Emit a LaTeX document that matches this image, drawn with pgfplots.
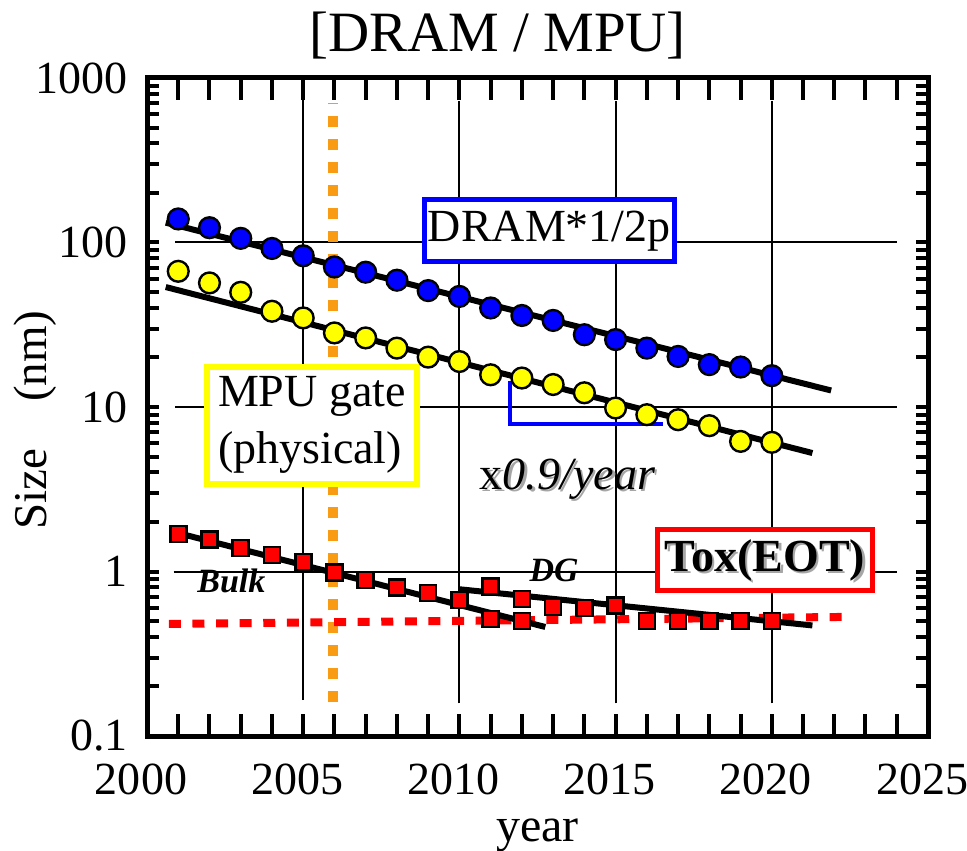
\documentclass[border=0pt]{standalone}
\usepackage{pgfplots}
\pgfplotsset{compat=1.18}
\usepackage{fontspec}
\setmainfont{Liberation Serif}
\definecolor{dblue}{RGB}{0,0,255}
\definecolor{dred}{RGB}{255,0,0}
\definecolor{dyellow}{RGB}{255,255,0}
\definecolor{dorange}{RGB}{250,155,20}
\begin{document}
\begin{tikzpicture}
\path[use as bounding box] (-73.5pt,-57pt) rectangle (410pt,368pt);
\begin{axis}[
  at={(0,0)}, anchor=south west,
  scale only axis, width=390.5pt, height=329pt,
  xmin=2000, xmax=2025, ymode=log, ymin=0.1, ymax=1000,
  axis line style={line width=2.5pt},
  tick align=inside,
  xtick={2000,2005,...,2025}, minor xtick={2001,...,2024},
  xticklabels={2000,2005,2010,2015,2020,2025},
  ytick={0.1,1,10,100,1000}, yticklabels={0.1,1,10,100,1000},
  major tick length=11pt, minor tick length=11pt,
  y tick style={/pgfplots/major tick length=6pt,/pgfplots/minor tick length=6pt},
  tick style={line width=2pt, black},
  /pgf/number format/assume math mode=true,
  xticklabel style={font=\fontsize{23}{26}\selectfont, yshift=-10.5pt, xshift=-3pt},
  yticklabel style={font=\fontsize{23}{26}\selectfont, xshift=-6pt},
  title={[DRAM / MPU]},
  title style={font=\fontsize{28.5}{32}\selectfont, at={(axis description cs:0.5,1)}, anchor=center, yshift=15pt, xshift=-20pt},
  xlabel={year},
  xlabel style={font=\fontsize{24}{28}\selectfont, at={(axis description cs:0.5,0)}, anchor=center, yshift=-49.5pt},
  ylabel={Size\hspace{1em}(nm)},
  ylabel style={font=\fontsize{23.5}{28}\selectfont, at={(axis description cs:-0.1434,0.4802)}, anchor=center},
]
% grid lines
\addplot[black, line width=1pt, forget plot] coordinates {(2005,0.165) (2005,740)};
\addplot[black, line width=1pt, forget plot] coordinates {(2010,0.158) (2010,720)};
\addplot[black, line width=1pt, forget plot] coordinates {(2015,0.158) (2015,720)};
\addplot[black, line width=1pt, forget plot] coordinates {(2020,0.158) (2020,720)};
\addplot[black, line width=1pt, forget plot] coordinates {(2000.85,1) (2024.0,1)};
\addplot[black, line width=1pt, forget plot] coordinates {(2000.9,10) (2024.0,10)};
\addplot[black, line width=1pt, forget plot] coordinates {(2000.9,100) (2024.0,100)};
% orange vertical dotted
\addplot[dorange, line width=5pt, dash pattern=on 5.5pt off 6pt] coordinates {(2005.95,0.16) (2005.95,700)};
% red dotted
\addplot[dred, line width=4pt, dash pattern=on 6pt off 5.8pt] coordinates {(2000.7,0.48) (2022.5,0.53)};
% fit lines
\addplot[black, line width=3pt] coordinates {(2000.6,132) (2021.9,12.6)};
\addplot[black, line width=3pt] coordinates {(2000.6,53.6) (2021.3,5.25)};
\addplot[black, line width=3pt] coordinates {(2000.8,1.75) (2012.75,0.46)};
\addplot[black, line width=3pt] coordinates {(2010,0.78) (2021.3,0.47)};
% DRAM
\addplot[only marks, mark=*, mark size=5.2pt, mark options={fill=dblue, draw=black, line width=1.2pt}] coordinates {
(2001,139) (2002,123) (2003,106) (2004,92) (2005,83) (2006,71) (2007,66) (2008,59) (2009,51) (2010,47)
(2011,40) (2012,36) (2013,33.6) (2014,27.5) (2015,25.7) (2016,22.8) (2017,20.3) (2018,18.1) (2019,17.5) (2020,15.5)};
% MPU gate
\addplot[only marks, mark=*, mark size=5.2pt, mark options={fill=dyellow, draw=black, line width=1.2pt}] coordinates {
(2001,66.8) (2002,56.8) (2003,49.8) (2004,38.2) (2005,34.8) (2006,28.2) (2007,26.3) (2008,22.8) (2009,20.1) (2010,18.9)
(2011,15.7) (2012,15.0) (2013,13.7) (2014,12.2) (2015,9.86) (2016,8.98) (2017,8.37) (2018,7.70) (2019,6.18) (2020,6.10)};
% Tox bulk
\addplot[only marks, mark=square*, mark size=4pt, mark options={fill=dred, draw=black, line width=1.3pt}] coordinates {
(2001,1.69) (2002,1.57) (2003,1.39) (2004,1.26) (2005,1.14) (2006,0.99) (2007,0.89) (2008,0.80) (2009,0.74) (2010,0.67)
(2011,0.515) (2012,0.50)};
% Tox DG
\addplot[only marks, mark=square*, mark size=4pt, mark options={fill=dred, draw=black, line width=1.3pt}] coordinates {
(2011,0.81) (2012,0.68) (2013,0.61) (2014,0.60) (2015,0.62) (2016,0.50) (2017,0.50) (2018,0.50) (2019,0.50) (2020,0.50)};
% annotations
\draw[dblue, line width=2pt] (axis cs:2011.62,14.3) -- (axis cs:2011.62,7.83) -- (axis cs:2016.52,7.83);
\node[draw=dblue, line width=2.5pt, fill=white, minimum width=125pt, minimum height=31pt, inner sep=0pt, font=\fontsize{23}{26}\selectfont] at (axis cs:2012.88,117.5) {DRAM*1/2p};
\node[draw=dyellow, line width=3pt, fill=white, minimum width=105pt, minimum height=58.5pt, inner sep=0pt, align=left, font=\fontsize{23}{28.5}\selectfont] at (axis cs:2005.28,7.77) {MPU gate\\(physical)};
\node[draw=dred, line width=2.5pt, fill=white, minimum width=107.5pt, minimum height=30.5pt, inner sep=0pt] (tox) at (axis cs:2019.78,1.167) {};
\node[text=black!35, font=\bfseries\fontsize{23}{26}\selectfont] at ([xshift=1.2pt,yshift=-1.2pt]tox.center) {Tox(EOT)};
\node[font=\bfseries\fontsize{23}{26}\selectfont] at (tox.center) {Tox(EOT)};
\node[anchor=base, text=black!35, font=\fontsize{23}{26}\selectfont] at ([xshift=1.2pt,yshift=-1.2pt]axis cs:2013.46,3.15) {x\textit{0.9/year}};
\node[anchor=base, font=\fontsize{23}{26}\selectfont] at (axis cs:2013.46,3.15) {x\textit{0.9/year}};
\node[anchor=base, font=\bfseries\itshape\fontsize{17}{20}\selectfont] at (axis cs:2002.70,0.748) {Bulk};
\node[anchor=base, font=\bfseries\itshape\fontsize{17}{20}\selectfont] at (axis cs:2013.03,0.873) {DG};
\end{axis}
\end{tikzpicture}
\end{document}
